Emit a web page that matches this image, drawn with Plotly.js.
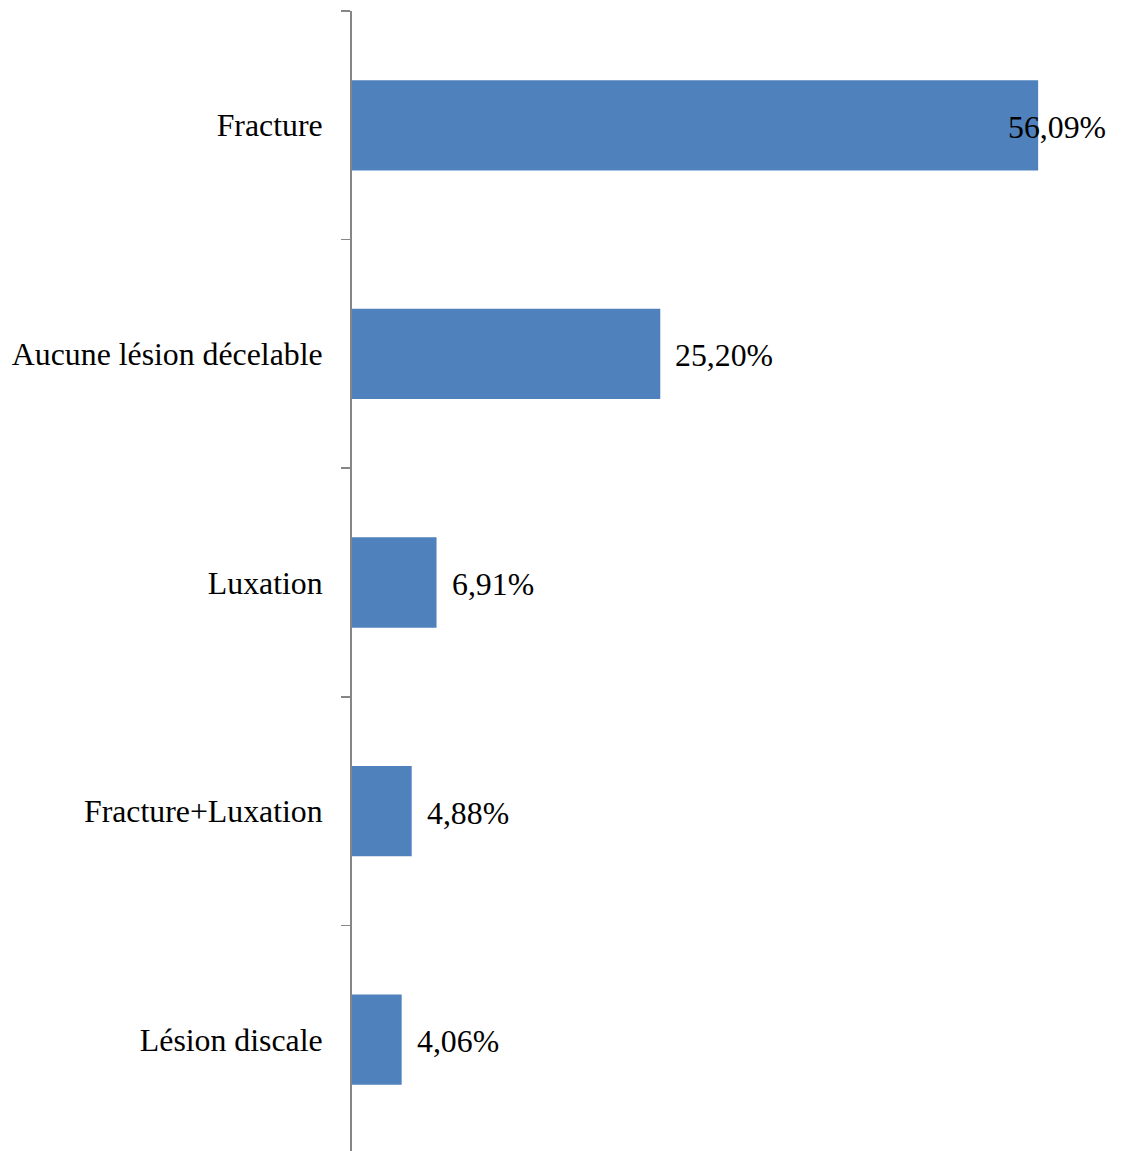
<!DOCTYPE html>
<html>
<head>
<meta charset="utf-8">
<script src="https://cdn.plot.ly/plotly-3.0.1.min.js"></script>
<style>
html, body { margin: 0; padding: 0; overflow: hidden; background: #fff; }
#chart { width: 1124px; height: 1154px; }
</style>
</head>
<body>
<div id="chart"></div>
<script>
const categories = ["Fracture", "Aucune lésion décelable", "Luxation", "Fracture+Luxation", "Lésion discale"];
const values = [56.09, 25.20, 6.91, 4.88, 4.06];
const labels = ["56,09%", "25,20%", "6,91%", "4,88%", "4,06%"];

const xMax = 61.8;
const fontFam = "'Liberation Serif', 'Times New Roman', serif";
const fontSize = 31.8;

const annotations = values.map((v, i) => {
  const pushed = v + 9.5 > xMax;
  return pushed
    ? { x: xMax, y: categories[i], xref: 'x', yref: 'y', text: labels[i], showarrow: false,
        xanchor: 'right', yanchor: 'middle', yshift: -2, font: { family: fontFam, size: fontSize, color: '#000' } }
    : { x: v, y: categories[i], xref: 'x', yref: 'y', text: labels[i], showarrow: false,
        xanchor: 'left', yanchor: 'middle', xshift: 13, yshift: -2, font: { family: fontFam, size: fontSize, color: '#000' } };
});

const trace = {
  type: 'bar',
  orientation: 'h',
  y: categories,
  x: values,
  marker: { color: '#4F81BD' },
  hoverinfo: 'none'
};

const layout = {
  width: 1124,
  height: 1154,
  margin: { l: 352, r: 16, t: 11, b: 0, pad: 0 },
  paper_bgcolor: '#fff',
  plot_bgcolor: '#fff',
  showlegend: false,
  bargap: 0.605,
  font: { family: fontFam, size: fontSize, color: '#000' },
  xaxis: {
    range: [0, xMax],
    showgrid: false, zeroline: false, showticklabels: false, showline: false, ticks: ''
  },
  yaxis: {
    type: 'category',
    autorange: 'reversed',
    showgrid: false, zeroline: false,
    showline: true, linecolor: '#868686', linewidth: 2,
    ticks: 'outside', tickson: 'boundaries', ticklen: 9, tickwidth: 1.5, tickcolor: '#868686',
    tickfont: { family: fontFam, size: fontSize, color: '#000' },
    ticklabelstandoff: 21
  },
  annotations: annotations
};

Plotly.newPlot('chart', [trace], layout, { displayModeBar: false, staticPlot: true });
</script>
</body>
</html>
